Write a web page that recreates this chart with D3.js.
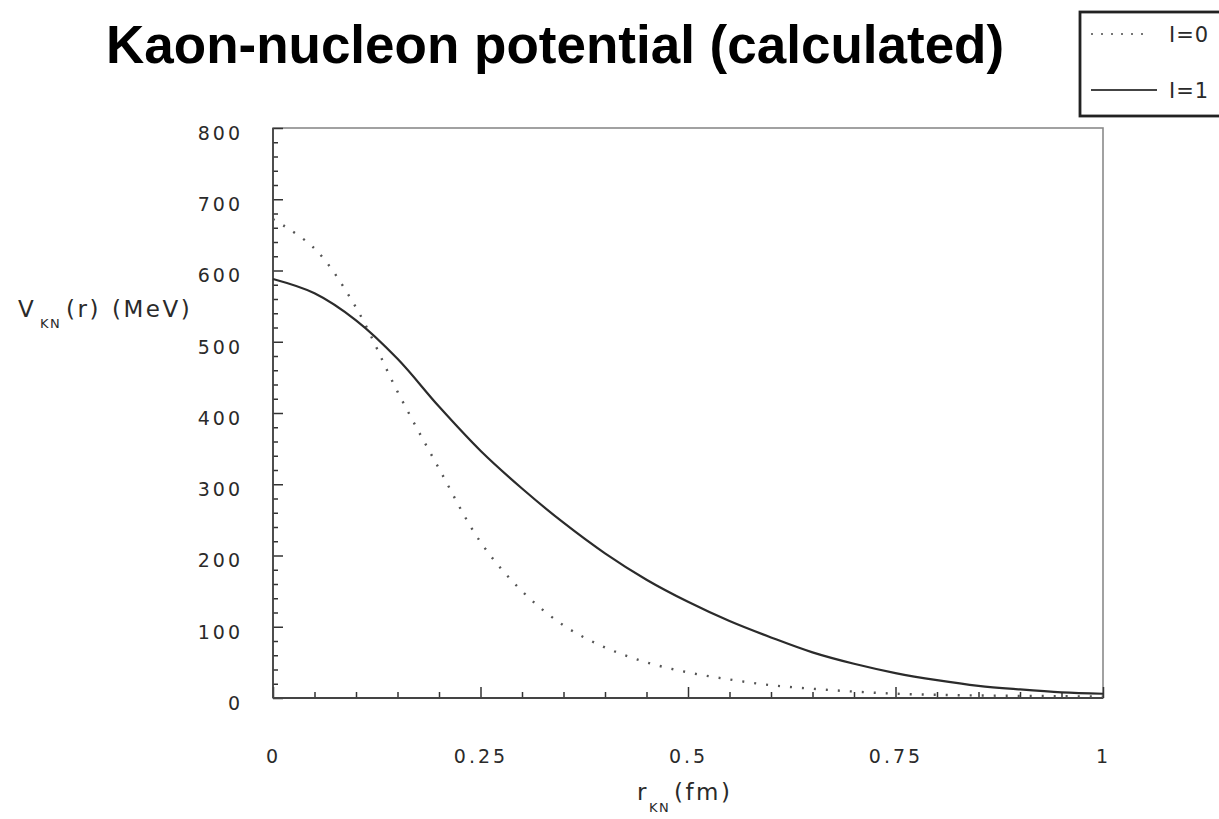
<!DOCTYPE html>
<html>
<head>
<meta charset="utf-8">
<script src="https://cdn.jsdelivr.net/npm/d3@7"></script>
<style>
  body { margin: 0; background: #fff; }
  svg { display: block; }
  .tick-label text { font-family: "DejaVu Sans", sans-serif; font-size: 19px; letter-spacing: 3px; fill: #2a2a2a; }
  .axis-title { font-family: "DejaVu Sans", sans-serif; fill: #2a2a2a; }
</style>
</head>
<body>
<div id="chart"></div>
<script>
// data
const rValues = [0, 0.05, 0.10, 0.15, 0.20, 0.25, 0.30, 0.35, 0.40, 0.45, 0.50,
                 0.55, 0.60, 0.65, 0.70, 0.75, 0.80, 0.85, 0.90, 0.95, 1.00];
const vIso0 = [672, 631, 548, 430, 322, 219, 150, 102, 71, 50, 36,
               26, 18, 13, 9, 6, 4.5, 3.5, 3, 2.5, 2];
const vIso1 = [588, 568, 530, 476, 409, 347, 294, 246, 203, 166, 135,
               108, 85, 64, 48, 35, 25, 17, 12, 8, 6];
const seriesNames = ["I=0", "I=1"];
const xTickValues = [0, 0.25, 0.5, 0.75, 1];
const xTickLabels = ["0", "0.25", "0.5", "0.75", "1"];
const yTickValues = [0, 100, 200, 300, 400, 500, 600, 700, 800];

//------------------------1. PREPARATION------------------------//
const W = 1219, H = 819;
const plotLeft = 273, plotRight = 1103, plotTop = 128, plotBottom = 698;

const svg = d3.select("#chart").append("svg")
  .attr("width", W)
  .attr("height", H);

const xScale = d3.scaleLinear().domain([0, 1]).range([plotLeft, plotRight]);
const yScale = d3.scaleLinear().domain([0, 800]).range([plotBottom, plotTop]);

const iso0 = rValues.map((r, i) => ({r: r, v: vIso0[i]}));
const iso1 = rValues.map((r, i) => ({r: r, v: vIso1[i]}));

const line = d3.line()
  .x(d => xScale(d.r))
  .y(d => yScale(d.v))
  .curve(d3.curveCatmullRom.alpha(0.5));

//-------------------------2. DRAWING---------------------------//
// title
svg.append("text")
  .attr("x", 106)
  .attr("y", 63)
  .style("font-family", "'Liberation Sans', Arial, sans-serif")
  .style("font-weight", "bold")
  .style("font-size", "53px")
  .style("fill", "#000")
  .text("Kaon-nucleon potential (calculated)");

// frame
svg.append("rect")
  .attr("x", plotLeft)
  .attr("y", plotTop)
  .attr("width", plotRight - plotLeft)
  .attr("height", plotBottom - plotTop)
  .attr("fill", "none")
  .attr("stroke", "#8a8a8a")
  .attr("stroke-width", 1.6);

// inward ticks
const yMinor = d3.range(0, 801, 20).filter(v => v % 100 !== 0);
const xMinor = d3.range(0, 1.0001, 0.05).filter((v, i) => i % 5 !== 0);

function tickGroup(axis) {
  const g = svg.append("g").call(axis);
  g.select(".domain").remove();
  g.selectAll("text").remove();
  g.selectAll("line").attr("stroke", "#333").attr("stroke-width", 1.5);
  return g;
}

tickGroup(d3.axisRight(yScale).tickValues(yTickValues).tickSize(10))
  .attr("transform", "translate(" + plotLeft + ",0)");
tickGroup(d3.axisRight(yScale).tickValues(yMinor).tickSize(5))
  .attr("transform", "translate(" + plotLeft + ",0)");
tickGroup(d3.axisTop(xScale).tickValues(xTickValues).tickSize(11))
  .attr("transform", "translate(0," + plotBottom + ")");
tickGroup(d3.axisTop(xScale).tickValues(xMinor).tickSize(6))
  .attr("transform", "translate(0," + plotBottom + ")");

// left and bottom axis lines
svg.append("line")
  .attr("x1", plotLeft).attr("x2", plotLeft)
  .attr("y1", plotTop).attr("y2", plotBottom)
  .attr("stroke", "#444").attr("stroke-width", 1.8);
svg.append("line")
  .attr("x1", plotLeft).attr("x2", plotRight)
  .attr("y1", plotBottom).attr("y2", plotBottom)
  .attr("stroke", "#444").attr("stroke-width", 1.8);

// tick labels
const yLabels = svg.append("g")
  .attr("class", "tick-label")
  .attr("transform", "translate(" + (plotLeft - 30) + ",0)")
  .call(d3.axisLeft(yScale).tickValues(yTickValues).tickSize(0).tickPadding(0));
yLabels.select(".domain").remove();
yLabels.selectAll("text").attr("dy", "0.7em").attr("y", -2);

const xLabels = svg.append("g")
  .attr("class", "tick-label")
  .attr("transform", "translate(0," + (plotBottom + 51) + ")")
  .call(d3.axisBottom(xScale).tickValues(xTickValues)
    .tickFormat((d, i) => xTickLabels[i]).tickSize(0).tickPadding(0));
xLabels.select(".domain").remove();

// axis titles
const yTitle = svg.append("text")
  .attr("class", "axis-title")
  .attr("x", 18)
  .attr("y", 317)
  .style("font-size", "23px")
  .style("letter-spacing", "2.5px");
yTitle.append("tspan").text("V");
yTitle.append("tspan").attr("x", 40).attr("dy", 11)
  .style("font-size", "13px").style("letter-spacing", "1.5px").text("KN");
yTitle.append("tspan").attr("x", 66).attr("dy", -11).text("(r)");
yTitle.append("tspan").attr("x", 112).text("(MeV)");

const xTitle = svg.append("text")
  .attr("class", "axis-title")
  .attr("x", 637)
  .attr("y", 800)
  .style("font-size", "23px")
  .style("letter-spacing", "2.5px");
xTitle.append("tspan").text("r");
xTitle.append("tspan").attr("x", 649).attr("dy", 12)
  .style("font-size", "13px").style("letter-spacing", "1.5px").text("KN");
xTitle.append("tspan").attr("x", 674).attr("dy", -12).text("(fm)");

// curves
svg.append("path")
  .attr("d", line(iso0))
  .attr("fill", "none")
  .attr("stroke", "#555")
  .attr("stroke-width", 2.4)
  .attr("stroke-dasharray", "2,10");

svg.append("path")
  .attr("d", line(iso1))
  .attr("fill", "none")
  .attr("stroke", "#2b2b2b")
  .attr("stroke-width", 2.2);

// legend
const legend = svg.append("g");
legend.append("rect")
  .attr("x", 1080).attr("y", 12)
  .attr("width", 200).attr("height", 104)
  .attr("fill", "#fff")
  .attr("stroke", "#222")
  .attr("stroke-width", 2.8);

const legendRows = legend.selectAll("g.row")
  .data(seriesNames)
  .enter()
  .append("g")
  .attr("class", "row")
  .attr("transform", (d, i) => "translate(0," + (i === 0 ? 34 : 90) + ")");

legendRows.append("line")
  .attr("x1", 1091).attr("x2", (d, i) => i === 0 ? 1149 : 1157)
  .attr("stroke", (d, i) => i === 0 ? "#777" : "#444")
  .attr("stroke-width", 2)
  .attr("stroke-dasharray", (d, i) => i === 0 ? "2,8" : null);

legendRows.append("text")
  .attr("x", 1169)
  .attr("y", 8)
  .style("font-family", "'DejaVu Sans', sans-serif")
  .style("font-size", "21px")
  .style("letter-spacing", "1px")
  .style("fill", "#2a2a2a")
  .text(d => d);
</script>
</body>
</html>
